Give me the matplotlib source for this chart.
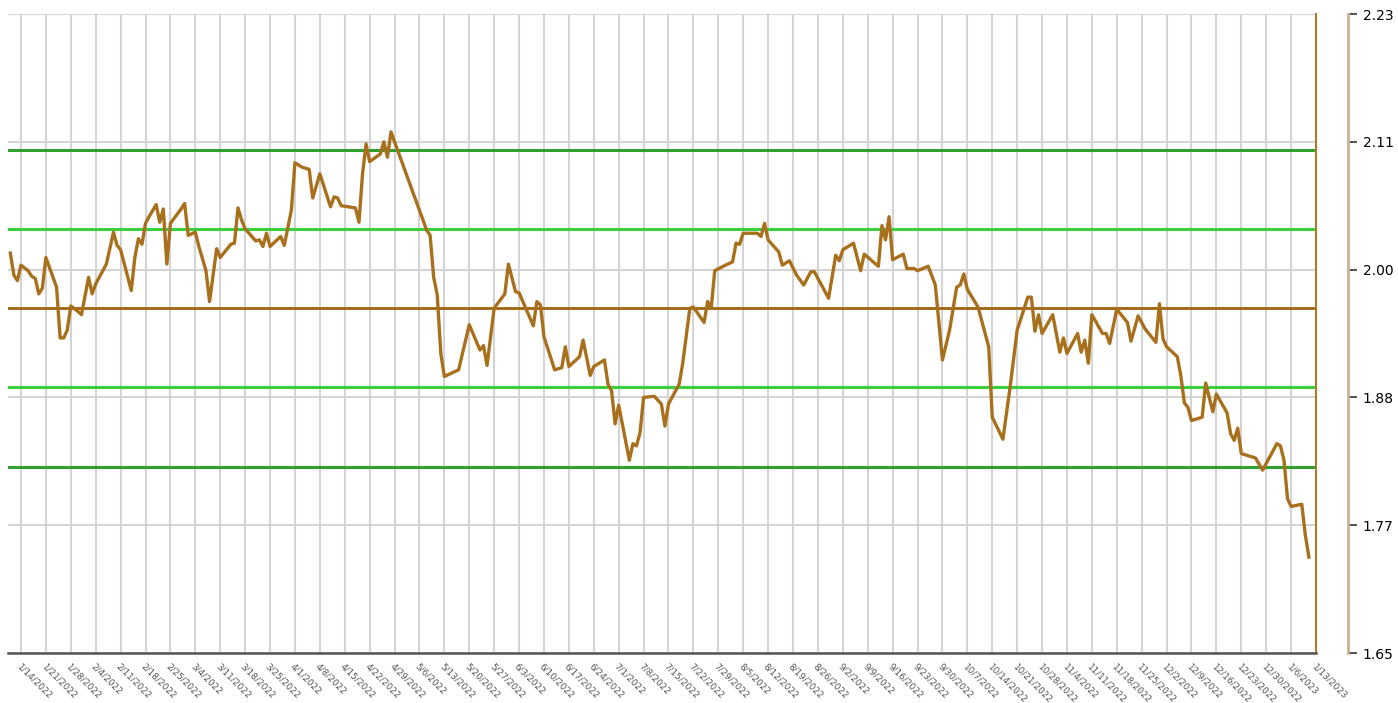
import numpy as np
import matplotlib
matplotlib.use("Agg")
import matplotlib.pyplot as plt
import matplotlib.dates as mdates
from matplotlib.ticker import FixedLocator, NullLocator

# Series: days after 1/14/2022 and the plotted value
day_offsets = [
    -3, -2, -1, 0, 2, 3, 4, 5, 6, 7, 8, 10, 11, 12, 13, 14, 16, 17, 19, 20,
    21, 24, 26, 27, 28, 31, 32, 33, 34, 35, 36, 38, 39, 40, 41, 42, 45, 46, 47, 49,
    50, 52, 53, 55, 56, 59, 60, 61, 62, 63, 66, 67, 68, 69, 70, 73, 74, 76, 77, 79,
    81, 82, 84, 87, 88, 89, 90, 94, 95, 96, 97, 98, 101, 102, 103, 104, 105, 114, 115, 116,
    117, 118, 119, 123, 126, 129, 130, 131, 133, 136, 137, 139, 140, 144, 145, 146, 147, 150, 152, 153,
    154, 157, 158, 160, 161, 164, 165, 166, 167, 168, 171, 172, 173, 174, 175, 178, 180, 181, 182, 185,
    186, 188, 189, 192, 193, 194, 195, 198, 200, 201, 202, 203, 207, 208, 209, 210, 213, 214, 216, 218,
    220, 222, 223, 227, 229, 230, 231, 234, 236, 237, 241, 242, 243, 244, 245, 248, 249, 251, 252, 255,
    257, 259, 261, 263, 264, 265, 266, 269, 272, 273, 276, 278, 280, 283, 284, 285, 286, 287, 290, 292,
    293, 294, 297, 298, 299, 300, 301, 304, 305, 306, 308, 311, 312, 314, 316, 319, 320, 321, 322, 325,
    326, 327, 328, 329, 332, 333, 335, 336, 339, 340, 341, 342, 343, 346, 347, 349, 353, 354, 355, 356,
    357, 360, 361, 362,
]
values = [
    2.013, 1.993, 1.988, 2.002, 1.997, 1.992, 1.990, 1.976, 1.981, 2.009, 2.000, 1.982, 1.936, 1.936, 1.943, 1.965, 1.960, 1.957, 1.991, 1.976,
    1.985, 2.003, 2.032, 2.020, 2.016, 1.979, 2.009, 2.026, 2.021, 2.040, 2.046, 2.057, 2.041, 2.053, 2.003, 2.040, 2.053, 2.058, 2.029, 2.032,
    2.019, 1.997, 1.969, 2.017, 2.009, 2.021, 2.022, 2.054, 2.043, 2.035, 2.024, 2.025, 2.019, 2.031, 2.019, 2.028, 2.020, 2.052, 2.095, 2.091,
    2.089, 2.063, 2.085, 2.055, 2.064, 2.063, 2.056, 2.054, 2.041, 2.085, 2.112, 2.096, 2.103, 2.114, 2.100, 2.123, 2.114, 2.034, 2.029, 1.991,
    1.975, 1.922, 1.901, 1.907, 1.948, 1.925, 1.929, 1.911, 1.963, 1.976, 2.003, 1.978, 1.977, 1.947, 1.969, 1.966, 1.937, 1.907, 1.909, 1.928,
    1.910, 1.919, 1.934, 1.902, 1.910, 1.916, 1.894, 1.888, 1.858, 1.875, 1.825, 1.840, 1.838, 1.850, 1.882, 1.883, 1.876, 1.856, 1.876, 1.894,
    1.913, 1.963, 1.964, 1.950, 1.969, 1.963, 1.997, 2.002, 2.005, 2.022, 2.021, 2.031, 2.031, 2.028, 2.040, 2.025, 2.014, 2.002, 2.006, 1.993,
    1.984, 1.996, 1.996, 1.972, 2.011, 2.006, 2.016, 2.022, 1.997, 2.012, 2.001, 2.038, 2.025, 2.046, 2.007, 2.012, 1.999, 1.999, 1.997, 2.001,
    1.984, 1.916, 1.943, 1.982, 1.984, 1.994, 1.980, 1.964, 1.928, 1.864, 1.844, 1.891, 1.943, 1.973, 1.973, 1.942, 1.957, 1.940, 1.957, 1.923,
    1.936, 1.922, 1.940, 1.923, 1.934, 1.913, 1.957, 1.940, 1.940, 1.931, 1.962, 1.950, 1.933, 1.956, 1.944, 1.932, 1.967, 1.935, 1.928, 1.919,
    1.902, 1.877, 1.873, 1.861, 1.864, 1.895, 1.869, 1.885, 1.868, 1.849, 1.843, 1.854, 1.831, 1.828, 1.827, 1.816, 1.840, 1.838, 1.825, 1.790,
    1.783, 1.785, 1.757, 1.737,
]

mean_level = 1.963
std_level = 0.072
y_ticks = [1.65, 1.766, 1.882, 1.998, 2.114, 2.23]
start_date = np.datetime64("2022-01-14")
n_weeks = 52

dates = start_date + np.array(day_offsets).astype("timedelta64[D]")
week_ticks = start_date + (np.arange(n_weeks + 1) * 7).astype("timedelta64[D]")
week_labels = []
for t in week_ticks.astype(object):
    week_labels.append(f"{t.month}/{t.day}/{t.year}")

line_color = "#a8701c"
grid_color = "#d4d4d4"

fig = plt.figure(figsize=(13.98, 7.03), dpi=100)
ax = fig.add_axes([8 / 1398, 1 - 653 / 703, (1316 - 8) / 1398, (653 - 14) / 703])

ax.set_ylim(1.65, 2.23)
ax.set_xlim(mdates.date2num(start_date) - 3.65, mdates.date2num(start_date) + 364.0)

# separate value axis on the right (made first: twinx turns the left ticks back on)
ax2 = ax.twinx()
ax2.set_ylim(1.65, 2.23)
ax2.yaxis.set_major_locator(FixedLocator(y_ticks))
ax2.yaxis.set_minor_locator(NullLocator())
ax2.set_yticklabels([f"{v:.2f}" for v in y_ticks], fontsize=7.5, color="#666666")
ax2.tick_params(axis="y", left=False, right=True, length=6.5, width=1.3,
                color="#444444", pad=4)
ax2.spines["right"].set_position(("outward", 23))
ax2.spines["right"].set_color("#c4b48c")
ax2.spines["right"].set_linewidth(2)
for side in ["left", "top", "bottom"]:
    ax2.spines[side].set_visible(False)

# grid
ax.xaxis.set_major_locator(FixedLocator(mdates.date2num(week_ticks)))
ax.set_xticklabels(week_labels, rotation=-45, ha="left", va="top",
                   rotation_mode="anchor", fontsize=6.4, color="#555555")
ax.tick_params(axis="x", length=0, pad=6)
ax.yaxis.set_major_locator(FixedLocator(y_ticks))
ax.tick_params(axis="y", left=False, right=False, labelleft=False, labelright=False)
ax.grid(True, color=grid_color, linewidth=1.5)
ax.set_axisbelow(True)

# bands
ax.axhline(mean_level + 2 * std_level, color="#2f9f2f", linewidth=2.2)
ax.axhline(mean_level + std_level, color="#3ccf3c", linewidth=2.2)
ax.axhline(mean_level, color="#a0640c", linewidth=2.0)
ax.axhline(mean_level - std_level, color="#3ccf3c", linewidth=2.2)
ax.axhline(mean_level - 2 * std_level, color="#2f9f2f", linewidth=2.2)

ax.plot(dates, values, color=line_color, linewidth=2.4, solid_joinstyle="round")

for side in ["left", "top"]:
    ax.spines[side].set_visible(False)
ax.spines["bottom"].set_color("#555555")
ax.spines["bottom"].set_linewidth(1.8)
ax.spines["right"].set_color("#b07a2a")
ax.spines["right"].set_linewidth(1.5)

fig.savefig("out.png", dpi=100)
